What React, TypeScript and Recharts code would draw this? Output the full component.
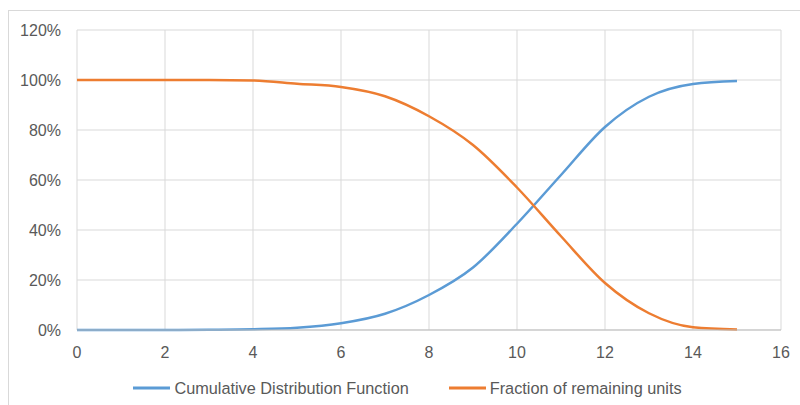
import React from 'react';
import { LineChart, Line, XAxis, YAxis, CartesianGrid, Legend } from 'recharts';

const xValues = [0, 1, 2, 3, 4, 5, 6, 7, 8, 9, 10, 11, 12, 13, 14, 15];
const cdfValues = [0, 0, 0, 0.1, 0.3, 0.9, 2.7, 6.5, 14, 25, 42.5, 62, 81.2, 93.3, 98.4, 99.6];
const remainingValues = [100, 100, 100, 100, 99.8, 98.5, 97.2, 93.5, 85.5, 74, 57, 37.5, 18.8, 6.7, 1.1, 0.2];
const xTicks = [0, 2, 4, 6, 8, 10, 12, 14, 16];
const yTicks = [0, 20, 40, 60, 80, 100, 120];

const data = xValues.map((x, i) => ({
  x,
  cdf: cdfValues[i],
  remaining: remainingValues[i],
}));

const BLUE = '#5B9BD5';
const ORANGE = '#ED7D31';
const TEXT = '#595959';
const FONT = '"Liberation Sans", Arial, sans-serif';

const LegendContent = () => {
  const items = [
    { label: 'Cumulative Distribution Function', color: BLUE },
    { label: 'Fraction of remaining units', color: ORANGE },
  ];
  return (
    <div
      style={{
        display: 'flex',
        justifyContent: 'center',
        alignItems: 'center',
        height: 20,
        paddingLeft: 34,
        fontFamily: FONT,
        fontSize: 16.3,
        color: TEXT,
      }}
    >
      {items.map((it, i) => (
        <div key={it.label} style={{ display: 'flex', alignItems: 'center', marginLeft: i === 0 ? 0 : 40 }}>
          <svg width={37} height={4} style={{ marginRight: 4 }}>
            <line x1={0} y1={2} x2={37} y2={2} stroke={it.color} strokeWidth={3} />
          </svg>
          <span style={{ whiteSpace: 'nowrap' }}>{it.label}</span>
        </div>
      ))}
    </div>
  );
};

export default function App() {
  return (
    <div style={{ position: 'absolute', left: 0, top: 0, width: 800, height: 405, background: '#fff', overflow: 'hidden' }}>
      <div
        style={{
          position: 'absolute',
          left: 8,
          top: 10,
          width: 820,
          height: 420,
          border: '1px solid #d9d9d9',
          boxSizing: 'border-box',
        }}
      />
      <div style={{ position: 'absolute', left: 0, top: 0 }}>
        <LineChart width={800} height={405} data={data} margin={{ top: 30, right: 19, left: 0, bottom: 7 }}>
          <CartesianGrid stroke="#d9d9d9" strokeWidth={1} />
          <XAxis
            dataKey="x"
            type="number"
            domain={[0, 16]}
            ticks={xTicks}
            height={48}
            tickLine={false}
            tickSize={0}
            tickMargin={17}
            axisLine={{ stroke: '#bfbfbf' }}
            tick={{ fill: TEXT, fontSize: 16, fontFamily: FONT }}
          />
          <YAxis
            type="number"
            domain={[0, 120]}
            ticks={yTicks}
            width={77}
            tickLine={false}
            tickSize={0}
            tickMargin={16}
            axisLine={false}
            tickFormatter={(v: number) => `${v}%`}
            tick={{ fill: TEXT, fontSize: 16, fontFamily: FONT }}
          />
          <Legend verticalAlign="bottom" content={<LegendContent />} />
          <Line
            type="monotone"
            dataKey="cdf"
            name="Cumulative Distribution Function"
            stroke={BLUE}
            strokeWidth={2.5}
            dot={false}
            isAnimationActive={false}
          />
          <Line
            type="monotone"
            dataKey="remaining"
            name="Fraction of remaining units"
            stroke={ORANGE}
            strokeWidth={2.5}
            dot={false}
            isAnimationActive={false}
          />
        </LineChart>
      </div>
    </div>
  );
}
